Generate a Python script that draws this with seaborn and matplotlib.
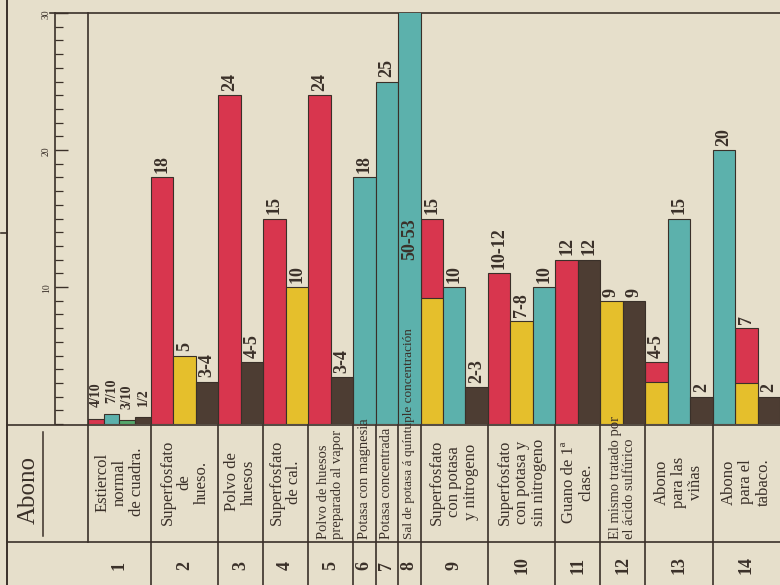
import numpy as np
import pandas as pd
import matplotlib
matplotlib.use("Agg")
import matplotlib.pyplot as plt
import matplotlib.transforms as mtransforms
from matplotlib.ticker import FixedLocator, MultipleLocator
import seaborn as sns

# ------------------------------------------------------------------ data
abonos = [
    "Estiercol\nnormal\nde cuadra.",
    "Superfosfato\nde\nhueso.",
    "Polvo de\nhuesos",
    "Superfosfato\nde cal.",
    "Polvo de huesos\npreparado al vapor",
    "Potasa con magnesia",
    "Potasa concentrada",
    "Sal de potasa á quíntuple concentración",
    "Superfosfato\ncon potasa\ny nitrogeno",
    "Superfosfato\ncon potasa y\nsin nitrogeno",
    "Guano de 1ª\nclase.",
    "El mismo tratado por\nel ácido sulfúrico",
    "Abono\npara las\nviñas",
    "Abono\npara el\ntabaco.",
]

# row 1 (manure): four narrow columns
estiercol_elem = ["fosforico", "potasa", "cal", "nitrogeno"]
estiercol_val = [0.4, 0.7, 0.3, 0.5]
estiercol_txt = ["4/10", "7/10", "3/10", "1/2"]

# rows 2-14: one entry per column
fila = [2, 2, 2, 3, 3, 4, 4, 5, 5, 6, 7, 8, 9, 9, 9,
        10, 10, 10, 11, 11, 12, 12, 13, 13, 13, 14, 14, 14]
elemento = ["fosforico", "soluble", "nitrogeno",
            "fosforico", "nitrogeno",
            "fosforico", "soluble",
            "fosforico", "nitrogeno",
            "potasa", "potasa", "potasa",
            "fosforico", "potasa", "nitrogeno",
            "fosforico", "soluble", "potasa",
            "fosforico", "nitrogeno",
            "soluble", "nitrogeno",
            "fosforico", "potasa", "nitrogeno",
            "potasa", "fosforico", "nitrogeno"]
valor = [18, 5, 3.1, 24, 4.5, 15, 10, 24, 3.4, 18, 25, 51.5,
         15, 10, 2.7, 11, 7.5, 10, 12, 12, 9, 9, 4.5, 15, 2, 20, 7, 2]
rotulo = ["18", "5", "3-4", "24", "4-5", "15", "10", "24", "3-4",
          "18", "25", "50-53", "15", "10", "2-3", "10-12", "7-8", "10",
          "12", "12", "9", "9", "4-5", "15", "2", "20", "7", "2"]

# soluble part drawn inside the red columns of mixed fertilisers
soluble_fila = [9, 13, 14]
soluble_val = [9.2, 3.1, 3.0]

# ------------------------------------------------------------------ style
paper = "#e6dfcb"
ink = "#3a3029"
colores = {"fosforico": "#d8364e", "soluble": "#e5bf2c",
           "potasa": "#5cb1ac", "nitrogeno": "#4d3d33", "cal": "#55a86c"}
plt.rcParams["font.family"] = ["Liberation Serif", "DejaVu Serif"]
plt.rcParams["text.color"] = ink

W, H = 780, 585
fig = plt.figure(figsize=(W / 100, H / 100), dpi=100, facecolor=paper)

# frame axes in pixel units for the ruling of the sheet
frame = fig.add_axes([0, 0, 1, 1])
frame.set_xlim(0, W)
frame.set_ylim(H, 0)
frame.set_autoscale_on(False)
frame.axis("off")

x_left, y_base, y_top = 88, 424, 13
ax = fig.add_axes([x_left / W, (H - y_base) / H, (W - x_left) / W,
                   (y_base - y_top) / H])
ax.set_facecolor("none")
ymax = 30

# column positions on a numeric scale
w1 = 0.7
pos1 = [w1 * (i + 0.5) for i in range(len(estiercol_val))]
x0 = w1 * len(estiercol_val)
pos2 = [x0 + j + 0.5 for j in range(len(valor))]
xmax = x0 + len(valor)

df1 = pd.DataFrame({"pos": pos1, "valor": estiercol_val, "elemento": estiercol_elem})
sol_pos = [pos2[[k for k in range(len(fila)) if fila[k] == r and elemento[k] == "fosforico"][0]]
           for r in soluble_fila]
df2 = pd.concat([
    pd.DataFrame({"pos": pos2, "valor": valor, "elemento": elemento}),
    pd.DataFrame({"pos": sol_pos, "valor": soluble_val, "elemento": ["soluble"] * len(sol_pos)}),
], ignore_index=True)

orden = ["fosforico", "soluble", "potasa", "cal", "nitrogeno"]
for df in (df1, df2):
    sns.barplot(data=df, x="pos", y="valor", hue="elemento", palette=colores,
                hue_order=[h for h in orden if h in set(df["elemento"])],
                native_scale=True, dodge=False, width=1, errorbar=None,
                saturation=1, legend=False, edgecolor=ink, linewidth=0.8,
                ax=ax)

ax.set_xlim(0, xmax)
ax.set_ylim(0, ymax)
ax.set_xlabel("")
ax.set_ylabel("")
ax.set_xticks([])
ax.set_yticks([])
for s in ax.spines.values():
    s.set_visible(False)

# value labels
num_font = dict(fontweight="bold", fontsize=13, color=ink, rotation=90)
for x, v, t in zip(pos2, valor, rotulo):
    if v > ymax:
        ax.text(x, ymax * 0.45, t, ha="center", va="center", **num_font)
    else:
        ax.annotate(t, (x, v), xytext=(0, 3), textcoords="offset points",
                    ha="center", va="bottom", **num_font)
for x, v, t in zip(pos1, estiercol_val, estiercol_txt):
    ax.annotate(t, (x, v), xytext=(0, 8), textcoords="offset points",
                ha="center", va="bottom", fontweight="bold", fontsize=10,
                color=ink, rotation=90)

# scale on the left
sc = fig.add_axes([55 / W, (H - y_base) / H, 0.0001, (y_base - y_top) / H])
sc.set_facecolor("none")
sc.set_ylim(0, ymax)
sc.set_xticks([])
for k in ("top", "right", "bottom"):
    sc.spines[k].set_visible(False)
sc.spines["left"].set_linewidth(1.2)
sc.spines["left"].set_color(ink)
sc.yaxis.set_major_locator(FixedLocator([10, 20, 30]))
sc.yaxis.set_minor_locator(MultipleLocator(1))
sc.tick_params(axis="y", which="major", direction="in", length=9, width=1,
               color=ink, labelsize=7, labelrotation=90, pad=3, labelcolor=ink)
sc.tick_params(axis="y", which="minor", direction="in", length=5.5, width=0.9,
               color=ink)

# ruling of the table
lw = 1.2
frame.plot([7, 7], [0, H], color=ink, lw=1.4)
frame.plot([1, 7], [233, 233], color=ink, lw=1.2)
frame.plot([50, W], [y_top, y_top], color=ink, lw=lw)
frame.plot([x_left, x_left], [y_top, 542], color=ink, lw=lw)
frame.plot([7, W], [425, 425], color=ink, lw=lw)
frame.plot([7, W], [542, 542], color=ink, lw=lw)
frame.text(29, 490, "Abono", rotation=90, ha="center", va="center",
           fontsize=18, color=ink)
frame.plot([43, 43], [432, 536], color=ink, lw=1.1)

trans = mtransforms.blended_transform_factory(ax.transData, frame.transData)

# row extents on the column scale
limites = [(0.0, x0)]
for r in range(2, len(abonos) + 1):
    idx = [k for k in range(len(fila)) if fila[k] == r]
    limites.append((x0 + idx[0], x0 + idx[-1] + 1))

for r, ((a, b), nombre) in enumerate(zip(limites, abonos), start=1):
    if r > 1:
        frame.plot([a, a], [425, H], color=ink, lw=lw, transform=trans)
    c = (a + b) / 2
    largo = max(len(s) for s in nombre.split("\n"))
    if largo > 14:
        size = 9.5 if largo > 25 else 10.5
        ax.text(c, 539, nombre, transform=trans, rotation=90, ha="center",
                va="bottom", multialignment="left", fontsize=size,
                linespacing=1.05, clip_on=False, zorder=6, color=ink)
    else:
        ax.text(c, 482, nombre, transform=trans, rotation=90, ha="center",
                va="center", multialignment="center", fontsize=12,
                linespacing=1.1, clip_on=False, zorder=6, color=ink)
    ax.text(c, 565, str(r), transform=trans, rotation=90, ha="center",
            va="center", fontsize=13, fontweight="bold", clip_on=False,
            color=ink)

fig.savefig("out.png", dpi=100, facecolor=paper)
